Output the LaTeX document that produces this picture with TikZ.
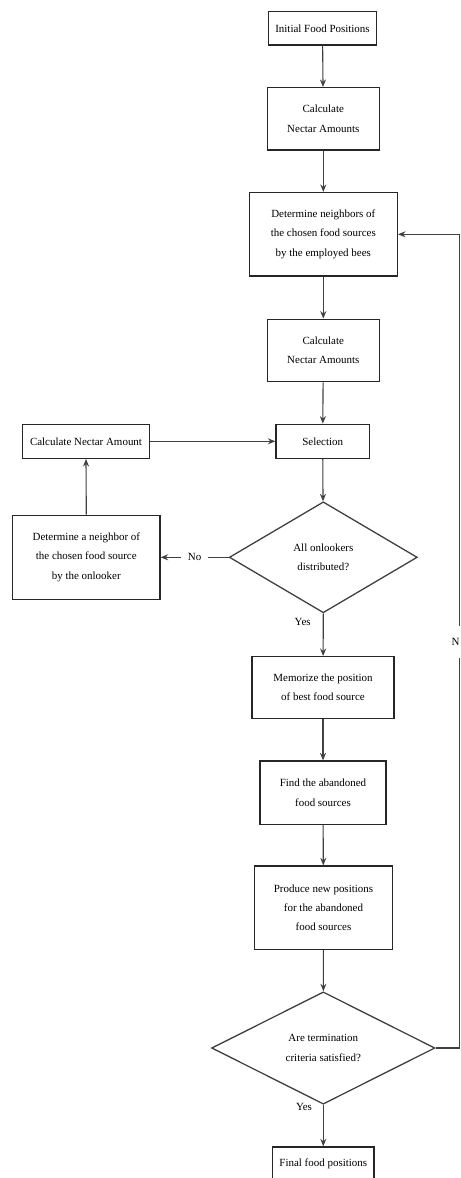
\documentclass[tikz,border=0pt]{standalone}
\usepackage{fontspec}
\setmainfont{Liberation Serif}
\usetikzlibrary{shapes.geometric,arrows.meta}
\begin{document}
\begin{tikzpicture}[x=1bp,y=-1bp,
  box/.style={draw=black!85,line width=1.4bp,rectangle,align=center,inner sep=0pt,
    font=\fontsize{11}{19.5}\selectfont},
  dia/.style={draw=black!75,line width=1.3bp,diamond,shape aspect=2,align=center,inner sep=0pt,
    font=\fontsize{11}{20}\selectfont},
  conn/.style={draw=black!75,line width=1.1bp,-{Stealth[length=7.5bp,width=6bp,inset=2.5bp]}},
  lab/.style={font=\fontsize{11}{13}\selectfont,inner sep=0pt}]
\useasboundingbox (0,0) rectangle (461,1178);

\node[box,minimum width=108.4bp,minimum height=33.3bp] (b1) at (322.5,28.3) {Initial Food Positions};
\node[box,minimum width=112bp,minimum height=62.3bp] (b2) at (323.3,118.8) {Calculate\\Nectar Amounts};
\node[box,minimum width=148bp,minimum height=83.3bp] (b3) at (323.3,234.3) {Determine neighbors of\\the chosen food sources\\by the employed bees};
\node[box,minimum width=112bp,minimum height=62.4bp] (b4) at (323.3,350.5) {Calculate\\Nectar Amounts};
\node[box,minimum width=93.3bp,minimum height=34bp] (sel) at (322.7,441.3) {Selection};
\node[box,minimum width=126.6bp,minimum height=34bp] (cna) at (86,441.3) {Calculate Nectar Amount};
\node[dia,minimum width=188bp,minimum height=111bp] (d1) at (323.3,557.3) {All onlookers\\distributed?};
\node[box,minimum width=147.3bp,minimum height=84bp] (det) at (86.3,557.3) {Determine a neighbor of\\the chosen food source\\by the onlooker};
\node[box,minimum width=142bp,minimum height=61.6bp] (mem) at (323,687.5) {Memorize the position\\of best food source};
\node[box,minimum width=126bp,minimum height=63.3bp] (find) at (323,792.7) {Find the abandoned\\food sources};
\node[box,minimum width=138.4bp,minimum height=83.3bp] (prod) at (323.5,907.7) {Produce new positions\\for the abandoned\\food sources};
\node[dia,minimum width=223.3bp,minimum height=112.3bp] (d2) at (323.3,1048) {Are termination\\criteria satisfied?};
\node[box,minimum width=101.3bp,minimum height=34bp] (fin) at (323.3,1164) {Final food positions};

\coordinate (fbx) at (459.3,0);

\draw[conn] (b1) -- (b2);
\draw[conn] (b2) -- (b3);
\draw[conn] (b3) -- (b4);
\draw[conn] (b4) -- (sel);
\draw[conn] (sel) -- (d1);
\draw[conn] (d1.south) -- (mem);
\draw[conn] (mem) -- (find);
\draw[conn] (find) -- (prod);
\draw[conn] (prod) -- (d2);
\draw[conn] (d2.south) -- (fin);
\draw[conn] (d1.west) -- node[lab,fill=white,inner xsep=6.5bp,inner ysep=3bp] (no1) {No} (det.east);
\draw[conn] (det.north) -- (cna.south);
\draw[conn] (cna.east) -- (sel.west);
\draw[conn] (d2.east) -- (d2.east -| fbx) -- (b3.east -| fbx) -- (b3.east);

\node[lab,fill=white,inner xsep=1bp,minimum height=32bp] (no2) at (455.7,641.5) {N};
\node[lab] (yes1) at (302.7,622.3) {Yes};
\node[lab] (yes2) at (304,1106.7) {Yes};
\end{tikzpicture}
\end{document}
